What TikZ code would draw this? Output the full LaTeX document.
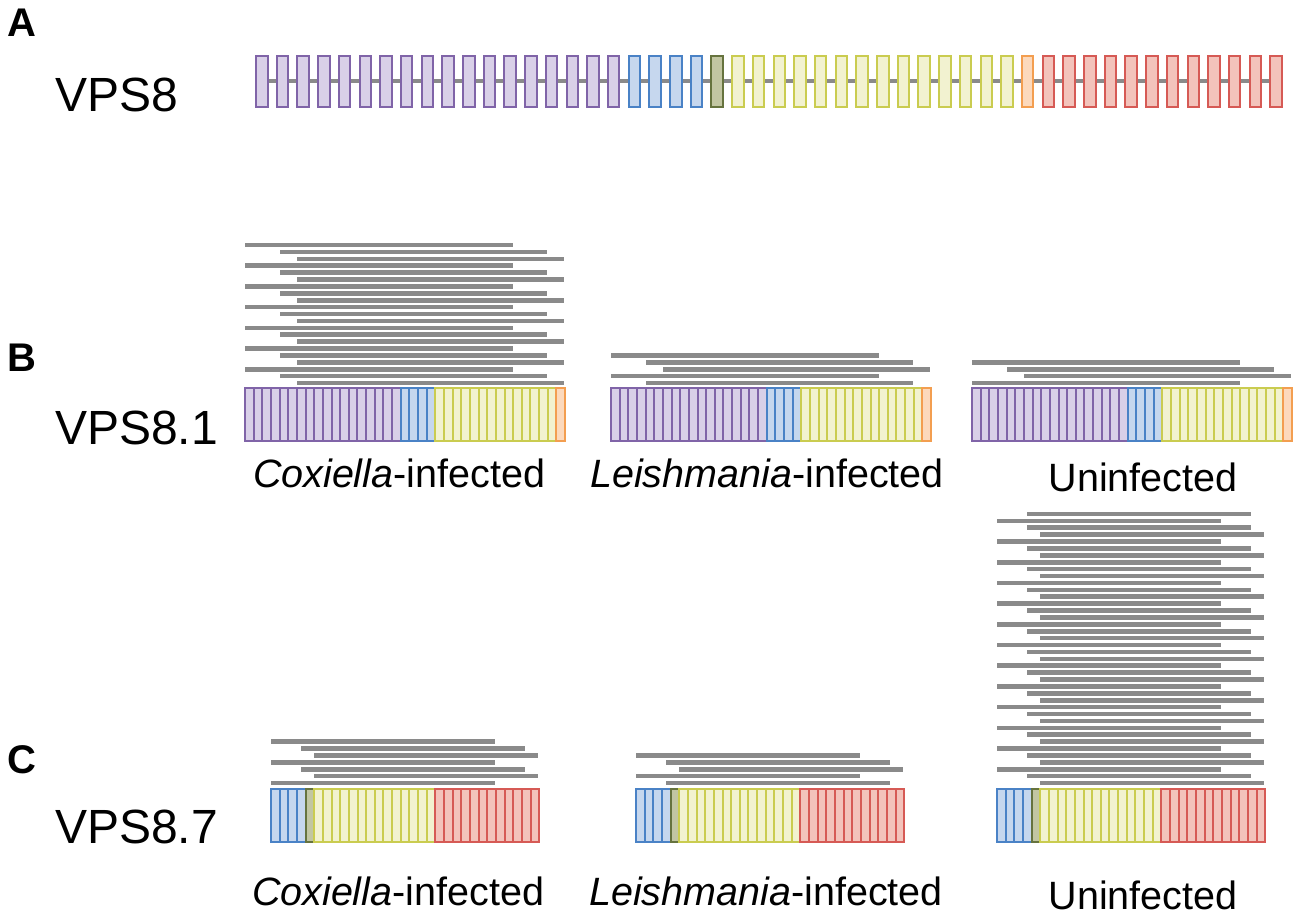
\documentclass[tikz,border=0pt]{standalone}
\usepackage{fontspec}
\setmainfont{Liberation Sans}
\definecolor{purD}{HTML}{8064A8}
\definecolor{purF}{HTML}{D9D0E8}
\definecolor{bluD}{HTML}{4A82C6}
\definecolor{bluF}{HTML}{C6D7EE}
\definecolor{oliD}{HTML}{66733E}
\definecolor{oliF}{HTML}{C2C6A2}
\definecolor{yelD}{HTML}{CACC50}
\definecolor{yelF}{HTML}{F2F2D0}
\definecolor{oraD}{HTML}{F39E50}
\definecolor{oraF}{HTML}{FCD9BC}
\definecolor{redD}{HTML}{D65A55}
\definecolor{redF}{HTML}{F3C3BB}
\definecolor{readc}{HTML}{8A8A8A}
\newcommand\exonrow[3]{% #1 left, #2 top, #3 list col/a/b
  \foreach \col/\a/\b in {#3}{\foreach \i in {\a,...,\b}{%
    \draw[blk, draw=\col D, fill=\col F] ({#1+\i*8.65},#2) rectangle ++(8.65,53);}}}
\newcommand\readsB[3]{% #1 left, #2 first row y, #3 list of types
  \foreach \t [count=\k from 0] in {#3}{%
    \ifcase\t\relax\or\def\rs{0}\def\re{268}\or\def\rs{35}\def\re{302}\or\def\rs{52}\def\re{319}\fi
    \fill[readc] ({#1+\rs},{#2+\k*6.9-2.3}) rectangle ({#1+\re},{#2+\k*6.9+2.3});}}
\newcommand\readsC[3]{%
  \foreach \t [count=\k from 0] in {#3}{%
    \ifcase\t\relax\or\def\rs{0}\def\re{224}\or\def\rs{30}\def\re{254}\or\def\rs{43}\def\re{267}\fi
    \fill[readc] ({#1+\rs},{#2+\k*6.9-2.3}) rectangle ({#1+\re},{#2+\k*6.9+2.3});}}
\begin{document}
\begin{tikzpicture}[x=1pt,y=-1pt,
  exon/.style={line width=2pt},
  blk/.style={line width=2pt},
  intron/.style={draw=readc,line width=3.5pt},
  panel/.style={font=\fontsize{40}{40}\selectfont\bfseries,inner sep=0pt},
  gene/.style={font=\fontsize{48}{48}\selectfont,inner sep=0pt,anchor=base west},
  cond/.style={font=\fontsize{39.5}{40}\selectfont,inner sep=0pt,anchor=base}]
\useasboundingbox (0,0) rectangle (1300,919);
% Panel A
\node[panel] (pA) at (22,23) {A};
\node[gene] (gA) at (55,111) {VPS8};
\coordinate (i1) at (262,81);
\coordinate (i2) at (1276,81);
\draw[intron] (i1) -- (i2);
\foreach \col/\a/\b in {pur/0/17,blu/18/21,oli/22/22,yel/23/36,ora/37/37,red/38/49}{%
  \foreach \i in {\a,...,\b}{%
    \draw[exon, draw=\col D, fill=\col F] ({256+\i*20.7},56) rectangle ++(11.5,51);}}
% Panel B
\node[panel] (pB) at (22,358) {B};
\node[gene] (gB) at (55,444) {VPS8.1};
\readsB{245}{245}{1,2,3,1,2,3,1,2,3,1,2,3,1,2,3,1,2,3,1,2,3}
\readsB{611}{355.4}{1,2,3,1,2}
\readsB{972}{362.3}{1,2,3,1}
\exonrow{245}{388}{pur/0/17,blu/18/21,yel/22/35,ora/36/36}
\exonrow{611}{388}{pur/0/17,blu/18/21,yel/22/35,ora/36/36}
\exonrow{972}{388}{pur/0/17,blu/18/21,yel/22/35,ora/36/36}
\node[cond] (cB1) at (399,487) {\textit{Coxiella}-infected};
\node[cond] (cB2) at (767,487) {\textit{Leishmania}-infected};
\node[cond] (cB3) at (1143,491) {Uninfected};
% Panel C
\node[panel] (pC) at (22,760) {C};
\node[gene] (gC) at (55,843) {VPS8.7};
\readsC{271}{741.6}{1,2,3,1,2,3,1}
\readsC{636}{755.4}{1,2,3,1,2}
\readsC{997}{513.9}{2,1,2,3,1,2,3,1,2,3,1,2,3,1,2,3,1,2,3,1,2,3,1,2,3,1,2,3,1,2,3,1,2,3,1,2,3,1,2,3}
\exonrow{271}{789}{blu/0/3,oli/4/4,yel/5/18,red/19/30}
\exonrow{636}{789}{blu/0/3,oli/4/4,yel/5/18,red/19/30}
\exonrow{997}{789}{blu/0/3,oli/4/4,yel/5/18,red/19/30}
\node[cond] (cC1) at (398,905) {\textit{Coxiella}-infected};
\node[cond] (cC2) at (766,905) {\textit{Leishmania}-infected};
\node[cond] (cC3) at (1143,909) {Uninfected};
\end{tikzpicture}
\end{document}
